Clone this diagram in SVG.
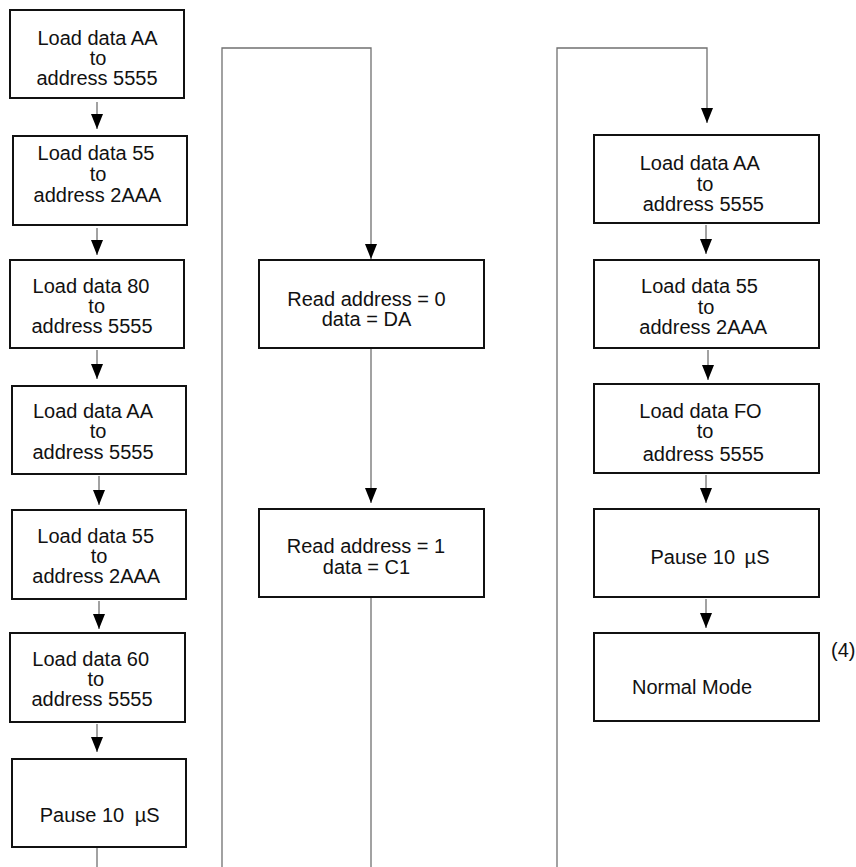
<svg xmlns="http://www.w3.org/2000/svg" width="856" height="867" viewBox="0 0 856 867">
<defs>
<style>
.box{fill:#fff;stroke:#111;stroke-width:2}
.conn{fill:none;stroke:#707070;stroke-width:1.3}
text{font-family:"Liberation Sans",Arial,sans-serif;font-size:20px;fill:#111;text-anchor:middle}
.lbl{text-anchor:start}
</style>
<marker id="arr" viewBox="0 0 15 12" markerUnits="userSpaceOnUse" markerWidth="15" markerHeight="12" refX="15" refY="6" orient="auto">
<path d="M0,0 L15,6 L0,12 Z" fill="#000"/>
</marker>
</defs>
<rect width="856" height="867" fill="#fff"/>
<g id="connectors">
<path class="conn" d="M97,102 V129" marker-end="url(#arr)"/>
<path class="conn" d="M97,228 V255" marker-end="url(#arr)"/>
<path class="conn" d="M97,350 V379" marker-end="url(#arr)"/>
<path class="conn" d="M99,476 V505" marker-end="url(#arr)"/>
<path class="conn" d="M99,601 V629" marker-end="url(#arr)"/>
<path class="conn" d="M97,724 V752" marker-end="url(#arr)"/>
<path class="conn" d="M97,847 V867"/>
<path class="conn" d="M222,867 V48 H371 V259" marker-end="url(#arr)"/>
<path class="conn" d="M371,348 V503" marker-end="url(#arr)"/>
<path class="conn" d="M371,597 V867"/>
<path class="conn" d="M557,867 V48 H707 V123" marker-end="url(#arr)"/>
<path class="conn" d="M706,225 V254" marker-end="url(#arr)"/>
<path class="conn" d="M708,350 V380" marker-end="url(#arr)"/>
<path class="conn" d="M706,475 V503" marker-end="url(#arr)"/>
<path class="conn" d="M706,599 V628" marker-end="url(#arr)"/>
</g>
<g id="n1"><rect class="box" x="10" y="10" width="174" height="88"/>
<text x="97.5" y="45">Load data AA</text><text x="98" y="65">to</text><text x="97" y="85">address 5555</text></g>
<g id="n2"><rect class="box" x="13" y="136" width="174" height="89"/>
<text x="96" y="160">Load data 55</text><text x="98" y="181">to</text><text x="97.5" y="202">address 2AAA</text></g>
<g id="n3"><rect class="box" x="10" y="260" width="174" height="88"/>
<text x="91" y="293">Load data 80</text><text x="96.7" y="313">to</text><text x="92" y="333">address 5555</text></g>
<g id="n4"><rect class="box" x="12" y="386" width="174" height="88"/>
<text x="93" y="418">Load data AA</text><text x="98" y="438">to</text><text x="93" y="459">address 5555</text></g>
<g id="n5"><rect class="box" x="12" y="510" width="174" height="89"/>
<text x="95.7" y="543">Load data 55</text><text x="99" y="563">to</text><text x="96.3" y="583">address 2AAA</text></g>
<g id="n6"><rect class="box" x="10" y="633" width="175" height="89"/>
<text x="90.7" y="666">Load data 60</text><text x="95.8" y="686">to</text><text x="92" y="706">address 5555</text></g>
<g id="n7"><rect class="box" x="12" y="759" width="174" height="88"/>
<text x="99.7" y="822">Pause 10 <tspan dx="5">µ</tspan>S</text></g>
<g id="n8"><rect class="box" x="259" y="260" width="225" height="88"/>
<text x="366.5" y="306">Read address = 0</text><text x="366.5" y="326">data = DA</text></g>
<g id="n9"><rect class="box" x="259" y="509" width="225" height="88"/>
<text x="366" y="553">Read address = 1</text><text x="366.5" y="574">data = C1</text></g>
<g id="n10"><rect class="box" x="594" y="135" width="225" height="88"/>
<text x="699.7" y="170">Load data AA</text><text x="705" y="191">to</text><text x="703.3" y="211">address 5555</text></g>
<g id="n11"><rect class="box" x="594" y="260" width="225" height="88"/>
<text x="699.5" y="293">Load data 55</text><text x="706" y="314">to</text><text x="703.3" y="334">address 2AAA</text></g>
<g id="n12"><rect class="box" x="594" y="384" width="225" height="89"/>
<text x="700.5" y="418">Load data FO</text><text x="705" y="438">to</text><text x="703.3" y="461">address 5555</text></g>
<g id="n13"><rect class="box" x="594" y="509" width="225" height="88"/>
<text x="710" y="564">Pause 10 <tspan dx="4">µ</tspan>S</text></g>
<g id="n14"><rect class="box" x="594" y="633" width="225" height="88"/>
<text x="692" y="694">Normal Mode</text></g>
<text class="lbl" x="831" y="657">(4)</text>
</svg>
